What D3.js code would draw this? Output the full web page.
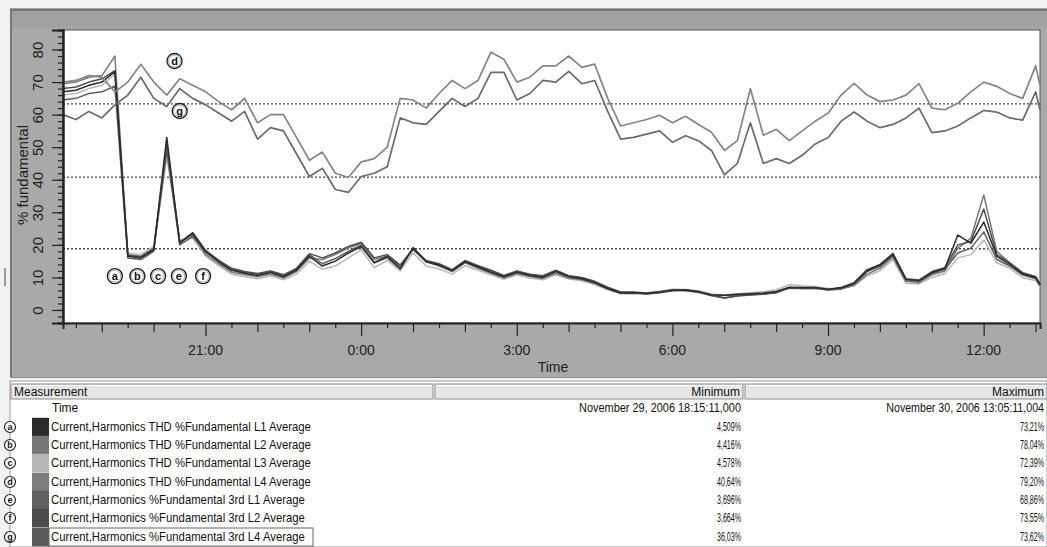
<!DOCTYPE html>
<html><head><meta charset="utf-8">
<script src="https://cdn.jsdelivr.net/npm/d3@7/dist/d3.min.js"></script>
<style>
body{margin:0;background:#f2f2f2;}
svg{display:block;font-family:"Liberation Sans",Arial,sans-serif;}
</style>
</head><body>
<svg id="chart" width="1047" height="547"></svg>
<script>
// ---------- DATA ----------
const timeLabels = ["18:15","18:30","18:45","19:00","19:15","19:30","19:45","20:00","20:15","20:30","20:45",
"21:00","21:15","21:30","21:45","22:00","22:15","22:30","22:45","23:00","23:15","23:30","23:45",
"00:00","00:15","00:30","00:45","01:00","01:15","01:30","01:45","02:00","02:15","02:30","02:45",
"03:00","03:15","03:30","03:45","04:00","04:15","04:30","04:45","05:00","05:15","05:30","05:45",
"06:00","06:15","06:30","06:45","07:00","07:15","07:30","07:45","08:00","08:15","08:30","08:45",
"09:00","09:15","09:30","09:45","10:00","10:15","10:30","10:45","11:00","11:15","11:30","11:45",
"12:00","12:15","12:30","12:45","13:00","13:05"];

const thdL1 = [67,67.5,69,70,73.2,16.5,16,18.5,53,20.5,23.5,
17.8,14.8,12.2,11.3,10.6,11.5,10.2,12.2,16.5,13.5,15,17.5,19.5,14.5,16.5,12.8,19,14.8,13.8,12,14.8,13.2,11.6,10.2,11.6,10.6,10,11.8,10.2,9.6,8.4,6.6,5.2,5.3,5,5.4,6,6.1,5.6,4.7,4.51,4.8,5,5.2,5.7,7,6.9,6.9,6.4,6.8,8.2,12,13.8,17,9.4,9,11.5,12.8,23,20.5,27,16.5,14,11,10,7.8];
const thdL2 = [69.5,70,71.5,72,78,17,16.5,19,50,21,23,
17,14.2,11.6,10.8,10.2,11,9.8,11.8,16,15.5,17,19,20.5,15.5,16.5,13.5,18.5,14.8,13.5,11.8,14.5,12.8,11.3,9.8,11.2,10.3,9.7,11.3,9.8,9.3,8.1,6.4,5.1,5.1,4.9,5.3,5.9,5.9,5.4,4.5,4.42,4.6,4.8,5,5.4,6.7,6.6,6.7,6.2,6.4,7.6,11,12.8,16.2,8.8,8.4,10.8,12,19,22,35.3,18,14.5,11.5,10.2,8];
const thdL3 = [66,66.5,68,69,72.4,17.5,17,19.5,47,21.5,22,
16.5,13.6,11,10.2,9.6,10.4,9.3,11,15,12.5,13.5,16,18.5,13,15.2,12,17.5,13.5,12.6,11,13.6,12.2,10.8,9.4,10.8,9.8,9.3,10.8,9.5,9,7.8,6.2,5,4.9,5.3,5.8,6.4,6.3,5.9,4.9,4.6,5,5.4,5.6,6.2,7.8,7.4,7.2,6.6,6.6,7.4,10.5,12,15.5,8.2,8,10,11.2,16,17,21.5,14.5,12.8,10,9,7.2];
const thdL4 = [70,70.5,72,71.5,67,70,75.5,70,66,71,69,
67,64,61.5,65,57.5,60,60,53,46,48.5,42,40.7,
45.5,46.5,50,65,64.5,62,66.5,70.5,68,70.5,79.2,77,70,
71.5,75,75,78,74.5,75.5,65,56.5,57.5,58.5,59.8,57.5,
59.5,57,54.6,49,52,68,53.7,55.5,52,55,58,60.5,
66,69.6,66,64,64.5,66,69.5,62,61.5,63.5,67,70,
68.7,66.5,65,75,69];
const h3L1 = [64.5,65,66.5,67,68.8,16,15.5,18,49,20,22.5,
18,15,12.6,11.5,11,11.8,10.6,12.6,17,14.2,15.8,18,20,14.5,16,12.5,19.2,15,14,12.2,15,13.5,12,10.4,11.8,10.9,10.3,12,10.4,9.8,8.6,6.8,5.4,5.4,5.1,5.5,6.1,6,5.5,4.4,3.7,4.3,4.6,4.8,5.3,6.8,6.6,6.6,6.1,6.5,7.9,11.8,13.4,16.8,9.2,8.8,11.2,12.5,17.5,19,24,15.5,13.5,10.8,9.6,7.5];
const h3L2 = [68,68.5,70,71,73.5,16.8,16.3,18.8,51,20.8,23.8,
18.3,15.3,12.8,11.8,11.2,12,10.8,12.8,17.3,16,17.5,19.5,20.8,16,17,13.8,18.8,15.2,14.2,12.4,15.2,13.6,12.2,10.6,12,11,10.5,12.2,10.5,10,8.8,7,5.5,5.5,5.2,5.6,6.2,6.2,5.7,4.6,3.66,4.4,4.7,4.9,5.4,6.9,6.7,6.8,6.3,6.9,8.4,12.4,14,17.4,9.6,9.2,11.8,13,20,21,31,17,14.5,11.3,10.2,8];
const h3L4 = [60,58.5,61,59,63,66,71.5,65,62.5,68,65,
63,60.5,58,61,52.5,56,55,48,41,43.5,37,36.1,
41,42,44,59,57.5,57,61,65,62.5,65,73,73,64.5,
66.5,70.5,70,73.3,69.5,70.5,61,52.5,53,54,55,51.5,
53.5,52,49,41.5,45,57.5,45,46.5,45,47.5,51,53,
58,60.8,58,56,57,59,62,54.5,55,56.5,59,61.3,
60.8,59,58.3,67,61.3];

const seriesKeys   = ["a","b","c","d","e","f","g"];
const seriesNames  = ["Current,Harmonics  THD %Fundamental L1 Average","Current,Harmonics  THD %Fundamental L2 Average",
  "Current,Harmonics  THD %Fundamental L3 Average","Current,Harmonics  THD %Fundamental L4 Average",
  "Current,Harmonics  %Fundamental  3rd L1 Average","Current,Harmonics  %Fundamental  3rd L2 Average",
  "Current,Harmonics  %Fundamental  3rd L4 Average"];
const seriesValues = [thdL1, thdL2, thdL3, thdL4, h3L1, h3L2, h3L4];
const minLabels = ["4,509%","4,416%","4,578%","40,64%","3,696%","3,664%","36,03%"];
const maxLabels = ["73,21%","78,04%","72,39%","79,20%","68,86%","73,55%","73,62%"];
const timeMin = "November 29, 2006 18:15:11,000";
const timeMax = "November 30, 2006 13:05:11,004";
const refLevels = [63.3, 40.8, 18.8];
const yTickValues = [0,10,20,30,40,50,60,70,80];
const annotations = [["d","20:24",76.5],["g","20:30",61.1],["a","19:15",10.4],["b","19:41",10.4],["c","20:05",10.4],["e","20:29",10.4],["f","20:57",10.4]];

// ---------- STYLE ----------
const seriesColors = ["#2b2b2b","#777777","#b8b8b8","#858585","#606060","#4d4d4d","#6a6a6a"];
const swatchColors = ["#2b2b2b","#777777","#b8b8b8","#7d7d7d","#606060","#4d4d4d","#5a5a5a"];

function toDate(lbl){
  const [h,m] = lbl.split(":").map(Number);
  const day = h >= 18 ? 29 : 30;
  return new Date(2006,10,day,h,m,11);
}
const times = timeLabels.map(toDate);

const svg = d3.select("#chart");
const W = 1047, H = 547;
const P = {l:63, r:1040, t:30, b:323};
const RX = 1044; // right edge for right-aligned table text

// squeeze a text horizontally to a target width via transform (keeps bbox honest)
function fitText(g, px, py, str, width, anchor, size){
  const t = g.append("text").attr("x",0).attr("y",0).attr("font-size",size||12)
    .attr("text-anchor",anchor||"start").attr("fill","#111").text(str);
  const nat = t.node().getComputedTextLength();
  const s = Math.min(1, width/nat);
  t.attr("transform",`translate(${px},${py}) scale(${s},1)`);
  return t;
}

// panel background
svg.append("rect").attr("x",0).attr("y",0).attr("width",W).attr("height",H).attr("fill","#f2f2f2");
svg.append("rect").attr("x",10).attr("y",8).attr("width",W-10).attr("height",370).attr("fill","#a9a9a9");
svg.append("rect").attr("x",10).attr("y",8).attr("width",W-10).attr("height",20).attr("fill","#a2a2a2");
svg.append("line").attr("x1",10).attr("x2",W).attr("y1",10).attr("y2",10).attr("stroke","#777").attr("stroke-width",2);
svg.append("line").attr("x1",11).attr("x2",11).attr("y1",9).attr("y2",378).attr("stroke","#777").attr("stroke-width",2);
svg.append("line").attr("x1",10).attr("x2",W).attr("y1",377.5).attr("y2",377.5).attr("stroke","#8a8a8a").attr("stroke-width",1);
svg.append("rect").attr("x",4).attr("y",268).attr("width",2).attr("height",18).attr("fill","#9a9a9a");

// plot area
svg.append("rect").attr("x",P.l).attr("y",P.t).attr("width",P.r-P.l).attr("height",P.b-P.t)
  .attr("fill","#fff").attr("stroke","#555").attr("stroke-width",1);

const x = d3.scaleTime().domain([new Date(2006,10,29,18,15,11), new Date(2006,10,30,13,5,11)]).range([P.l,P.r]);
const y = d3.scaleLinear().domain([-4,86]).range([P.b,P.t]);

// ref dotted lines
svg.append("g").selectAll("line").data(refLevels).join("line")
  .attr("x1",P.l).attr("x2",P.r).attr("y1",d=>y(d)).attr("y2",d=>y(d))
  .attr("stroke","#444").attr("stroke-width",1.3).attr("stroke-dasharray","2,2");

// lines
const line = d3.line().x((d,i)=>x(times[i])).y(d=>y(d));
const drawOrder = [2,1,4,5,0,3,6];
svg.append("g").selectAll("path").data(drawOrder).join("path")
  .attr("d",k=>line(seriesValues[k]))
  .attr("fill","none")
  .attr("stroke",k=>seriesColors[k])
  .attr("stroke-width",k=>(k===3||k===6)?1.7:1.5)
  .attr("stroke-linejoin","round");

// y axis
const yMinor = d3.axisLeft(y).tickValues(d3.range(-4,87,2)).tickSize(5).tickFormat("");
const yMajor = d3.axisLeft(y).tickValues(yTickValues).tickSize(11).tickFormat(d3.format("d"));
const gyMinor = svg.append("g").attr("transform",`translate(${P.l},0)`).call(yMinor);
const gy = svg.append("g").attr("transform",`translate(${P.l},0)`).call(yMajor);
[gyMinor,gy].forEach(g=>{g.select(".domain").attr("stroke","#222").attr("stroke-width",2);
  g.selectAll(".tick line").attr("stroke","#222").attr("stroke-width",1.2);});
gy.selectAll(".tick text")
  .attr("x",0).attr("dy",null)
  .attr("transform","translate(-26,0) rotate(-90)")
  .attr("text-anchor","middle").attr("dominant-baseline","central")
  .attr("font-size",15).attr("fill","#222").attr("font-family","Liberation Sans, Arial, sans-serif");

svg.append("text").attr("transform",`translate(22,${175}) rotate(-90)`)
  .attr("text-anchor","middle").attr("dominant-baseline","central")
  .attr("font-size",15).attr("fill","#222").text("% fundamental");

// x axis
const xTicks = x.ticks(d3.timeMinute.every(30));
const gx = svg.append("g").attr("transform",`translate(0,${P.b})`)
  .call(d3.axisBottom(x).tickValues(xTicks).tickFormat(""));
gx.select(".domain").attr("stroke","#222").attr("stroke-width",2);
gx.selectAll(".tick line").attr("stroke","#222").attr("stroke-width",1.2)
  .attr("y2",d=>d.getHours()%3===0&&d.getMinutes()===0?13:(d.getMinutes()===0?9:5));
const fmt = d3.timeFormat("%-H:%M");
svg.append("g").selectAll("text").data(xTicks.filter(d=>d.getHours()%3===0&&d.getMinutes()===0)).join("text")
  .attr("x",d=>x(d)).attr("y",355).attr("text-anchor","middle")
  .attr("font-size",14).attr("fill","#222").text(d=>fmt(d));
svg.append("text").attr("x",553).attr("y",372).attr("text-anchor","middle")
  .attr("font-size",14).attr("fill","#222").text("Time");

// annotations
const ann = svg.append("g").selectAll("g").data(annotations).join("g")
  .attr("transform",d=>`translate(${x(toDate(d[1]))},${y(d[2])})`);
ann.append("circle").attr("r",7.5).attr("fill","#fff").attr("stroke","#222").attr("stroke-width",1.4);
ann.append("circle").attr("r",6).attr("fill","none").attr("stroke","#777").attr("stroke-width",0.6);
ann.append("text").attr("text-anchor","middle").attr("dominant-baseline","central")
  .attr("font-size",11).attr("font-weight","bold").attr("fill","#111").text(d=>d[0]);

// ---------- TABLE ----------
const T = svg.append("g");
T.append("rect").attr("x",10).attr("y",381).attr("width",W-10).attr("height",H-381).attr("fill","#fff").attr("stroke","#999");
const headCells = [[11,433,"Measurement","start"],[435,743,"Minimum","end"],[745,1047,"Maximum","end"]];
headCells.forEach(([a,b,t,anc])=>{
  T.append("rect").attr("x",a).attr("y",384).attr("width",b-a).attr("height",15)
    .attr("fill","#e6e6e6").attr("stroke","#8c8c8c");
  T.append("line").attr("x1",a+1).attr("x2",b-1).attr("y1",385.5).attr("y2",385.5).attr("stroke","#fff");
  T.append("text").attr("x",anc==="start"?a+3:(b>=1047?RX:b-3)).attr("y",396)
    .attr("text-anchor",anc).attr("font-size",12).attr("fill","#111").text(t);
});
const rowY = [408,427,445,463,482,500,518,537];
T.append("text").attr("x",52).attr("y",rowY[0]+4).attr("font-size",12).attr("fill","#111").text("Time");
fitText(T, 741, rowY[0]+4, timeMin, 162, "end");
fitText(T, RX, rowY[0]+4, timeMax, 158, "end");

const rows = T.append("g").selectAll("g").data(seriesKeys).join("g");
rows.append("rect").attr("x",32).attr("y",(d,i)=>rowY[i+1]-9.2).attr("width",17).attr("height",18.6)
  .attr("fill",(d,i)=>swatchColors[i]);
rows.append("circle").attr("cx",10).attr("cy",(d,i)=>rowY[i+1]).attr("r",5.5)
  .attr("fill","#fff").attr("stroke","#222").attr("stroke-width",1.2);
rows.append("text").attr("x",10).attr("y",(d,i)=>rowY[i+1]).attr("text-anchor","middle")
  .attr("dominant-baseline","central").attr("font-size",9).attr("font-weight","bold").attr("fill","#111").text(d=>d);
rows.each(function(d,i){
  const g = d3.select(this);
  fitText(g, 51, rowY[i+1]+4, seriesNames[i], i<4?260:254, "start");
  fitText(g, 741, rowY[i+1]+4, minLabels[i], 24, "end");
  fitText(g, RX, rowY[i+1]+4, maxLabels[i], 24, "end");
});
// selection box on last row
T.append("rect").attr("x",49).attr("y",rowY[7]-9).attr("width",264).attr("height",18)
  .attr("fill","none").attr("stroke","#666").attr("stroke-width",1);
</script>
</body></html>
